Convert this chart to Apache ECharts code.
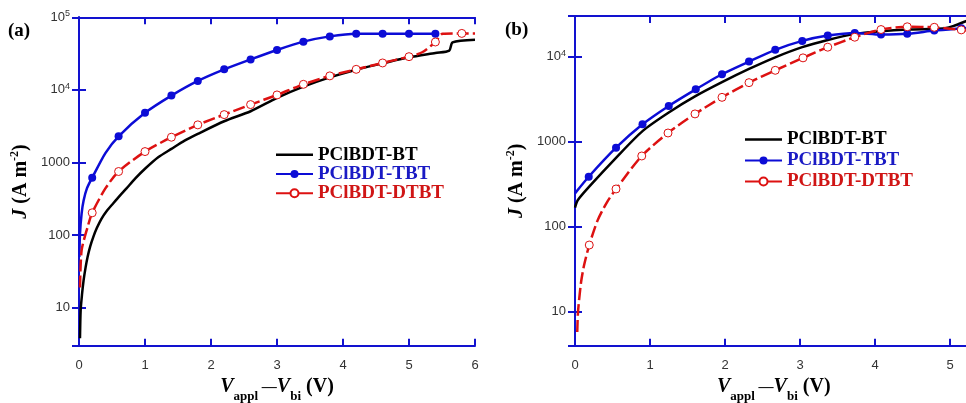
<!DOCTYPE html>
<html><head><meta charset="utf-8">
<script src="https://cdn.jsdelivr.net/npm/echarts@6/dist/echarts.min.js"></script>
<style>html,body{margin:0;padding:0;background:#fff;overflow:hidden}#c{width:980px;height:403px}</style>
</head><body><div id="c"></div>
<script>
// ---------- names ----------
const seriesNames = ['PClBDT-BT', 'PClBDT-TBT', 'PClBDT-DTBT'];
const xTicksA = [0, 1, 2, 3, 4, 5, 6];
const xTicksB = [0, 1, 2, 3, 4, 5];
const yTicksA = [10, 100, 1000, 10000, 100000];
const yTicksB = [10, 100, 1000, 10000];

// ---------- panel (a) ----------
const aBtX = [0.015, 0.025, 0.045, 0.07, 0.1, 0.13, 0.17, 0.216, 0.27, 0.34, 0.42, 0.52, 0.62, 0.72, 0.85, 1.0, 1.2, 1.4, 1.6, 1.8, 2.2, 2.6, 3.0, 3.4, 3.8, 4.2, 4.6, 5.0, 5.4, 5.61, 5.66, 6.0];
const aBtY = [3.8, 9.2, 15, 24, 36, 50, 70, 94, 125, 168, 215, 275, 350, 440, 600, 820, 1180, 1540, 2000, 2480, 3700, 5080, 7760, 11100, 14900, 19000, 23200, 28100, 32300, 34800, 45200, 49200];

const aTbtLineX = [0.005, 0.015, 0.04, 0.07, 0.12, 0.4];
const aTbtLineY = [50, 105, 200, 300, 440, 1350];
const aTbtMarkX = [0.2, 0.6, 1.0, 1.4, 1.8, 2.2, 2.6, 3.0, 3.4, 3.8, 4.2, 4.6, 5.0, 5.4];
const aTbtMarkY = [617, 2300, 4830, 8350, 13300, 19200, 26300, 35500, 46200, 54600, 59400, 59400, 59400, 59400];

const aDtbtLineX = [0.015, 0.04, 0.13, 0.4, 5.2, 5.51, 6.0];
const aDtbtLineY = [19, 62, 129, 440, 33000, 59500, 60000];
const aDtbtMarkX = [0.2, 0.6, 1.0, 1.4, 1.8, 2.2, 2.6, 3.0, 3.4, 3.8, 4.2, 4.6, 5.0, 5.4, 5.8];
const aDtbtMarkY = [203, 752, 1415, 2230, 3300, 4570, 6280, 8530, 11940, 15600, 19200, 23500, 28700, 45700, 60000];

// ---------- panel (b) ----------
const bBtX = [0, 0.036, 0.18, 0.55, 0.9, 1.25, 1.6, 1.96, 2.32, 2.67, 3.03, 3.37, 3.73, 4.08, 4.43, 4.79, 4.93, 5.05, 5.21, 5.3];
const bBtY = [168, 205, 290, 650, 1330, 2200, 3400, 5000, 7150, 9800, 12900, 15700, 18500, 19900, 20800, 21200, 21600, 23000, 26000, 27500];

const bTbtLineX = [0, 5.3];
const bTbtLineY = [247, 22000];
const bTbtMarkX = [0.183, 0.547, 0.9, 1.25, 1.61, 1.96, 2.32, 2.67, 3.03, 3.37, 3.73, 4.08, 4.43, 4.79, 5.15];
const bTbtMarkY = [387, 849, 1600, 2630, 4120, 6200, 8730, 12000, 15300, 17650, 19000, 18150, 18500, 20200, 21500];

const bDtbtLineX = [0.03, 0.04, 0.08, 0.12, 0.3, 0.42, 5.3];
const bDtbtLineY = [5.8, 10, 22, 35, 118, 190, 20000];
const bDtbtMarkX = [0.19, 0.547, 0.89, 1.24, 1.6, 1.96, 2.32, 2.67, 3.04, 3.37, 3.73, 4.08, 4.43, 4.79, 5.15];
const bDtbtMarkY = [61, 278, 679, 1265, 2120, 3320, 4940, 6900, 9660, 12900, 16900, 20800, 22400, 22100, 20600];

// ---------- styling ----------
const SANS = '"Liberation Sans", Arial, sans-serif';
const SERIF = '"Liberation Serif", "Times New Roman", serif';
const AXIS_BLUE = '#1212cf';
const C_BLACK = '#000000', C_BLUE = '#0c0cd6', C_RED = '#dd1111';
const TXT_BLUE = '#1a1ac4', TXT_RED = '#d01515';

function build(lx, ly, mx, my) {
  const items = [];
  lx.forEach((x, i) => items.push({ value: [x, ly[i]], symbol: 'none' }));
  (mx || []).forEach((x, i) => items.push({ value: [x, my[i]] }));
  items.sort((p, q) => p.value[0] - q.value[0]);
  return items;
}

function xFmt(ticks) {
  return v => ticks.some(t => Math.abs(t - v) < 1e-9) ? String(Math.round(v)) : '';
}
function yFmt(ticks) {
  return v => {
    const t = ticks.find(t => Math.abs(Math.log10(t) - Math.log10(v)) < 1e-6);
    if (t === undefined) return '';
    const e = Math.round(Math.log10(t));
    return e >= 4 ? '{b|10}{s|' + e + '}' : '{b|' + t + '}';
  };
}

const tickStyle = { show: true, inside: true, length: 7, lineStyle: { color: AXIS_BLUE, width: 2 } };
const lineAx = { show: true, lineStyle: { color: AXIS_BLUE, width: 2 } };

function xAxes(grid, max, ticks) {
  return [
    { type: 'value', gridIndex: grid, min: 0, max: max, interval: 1, position: 'bottom',
      axisLine: lineAx, axisTick: tickStyle, splitLine: { show: false },
      axisLabel: { formatter: xFmt(ticks), color: '#333', fontFamily: SANS, fontSize: 13, margin: 13 },
      name: '{v|V}{s|appl}{d| \u2014}{v|V}{s|bi}{p| (V)}', nameLocation: 'middle', nameGap: 25, nameMoveOverlap: false,
      nameTextStyle: { rich: {
        v: { fontFamily: SERIF, fontWeight: 'bold', fontStyle: 'italic', fontSize: 20, lineHeight: 32, color: '#000' },
        s: { fontFamily: SERIF, fontWeight: 'bold', fontSize: 13, lineHeight: 13, verticalAlign: 'bottom', color: '#000' },
        d: { fontFamily: SERIF, fontWeight: 'bold', fontSize: 15, lineHeight: 32, color: '#000' },
        p: { fontFamily: SERIF, fontWeight: 'bold', fontSize: 20, lineHeight: 32, color: '#000' }
      } } },
    { type: 'value', gridIndex: grid, min: 0, max: max, interval: 1, position: 'top',
      axisLine: lineAx, axisTick: tickStyle, splitLine: { show: false }, axisLabel: { show: false } }
  ];
}
function yAxes(grid, min, max, ticks, gap) {
  return [
    { type: 'log', logBase: 10, gridIndex: grid, min: min, max: max, position: 'left',
      axisLine: lineAx, axisTick: tickStyle, splitLine: { show: false }, minorTick: { show: false },
      axisLabel: { formatter: yFmt(ticks), margin: 9, color: '#333',
        rich: { b: { fontFamily: SANS, fontSize: 13, lineHeight: 16, color: '#333' },
                s: { fontFamily: SANS, fontSize: 9, lineHeight: 9, verticalAlign: 'top', color: '#333' } } },
      name: '{j|J}{t| (A m}{u|-2}{t|)}', nameLocation: 'middle', nameGap: gap, nameRotate: 90, nameMoveOverlap: false,
      nameTextStyle: { rich: {
        j: { fontFamily: SERIF, fontWeight: 'bold', fontStyle: 'italic', fontSize: 20, lineHeight: 24, color: '#000' },
        t: { fontFamily: SERIF, fontWeight: 'bold', fontSize: 20, lineHeight: 24, color: '#000' },
        u: { fontFamily: SERIF, fontWeight: 'bold', fontSize: 12, lineHeight: 12, verticalAlign: 'top', color: '#000' }
      } } },
    { type: 'log', logBase: 10, gridIndex: grid, min: min, max: max, position: 'right',
      axisLine: lineAx, axisTick: tickStyle, splitLine: { show: false }, axisLabel: { show: false } }
  ];
}

function mkSeries(name, xi, yi, data, kind) {
  const s = { name: name, type: 'line', xAxisIndex: xi, yAxisIndex: yi, data: data,
    smooth: 0.25, showSymbol: true, symbol: 'circle', symbolSize: 8,
    silent: true, animation: false, emphasis: { disabled: true }, clip: true };
  if (kind === 'bt') { s.lineStyle = { color: C_BLACK, width: 2.5 }; s.itemStyle = { color: C_BLACK }; s.symbol = 'none'; }
  if (kind === 'tbt') { s.lineStyle = { color: C_BLUE, width: 2.5 }; s.itemStyle = { color: C_BLUE }; }
  if (kind === 'dtbt') { s.lineStyle = { color: C_RED, width: 2.5, type: [12, 4] };
    s.itemStyle = { color: '#ffffff', borderColor: C_RED, borderWidth: 1, borderType: 'solid' }; }
  return s;
}

function legendCfg(left, top, lh) {
  return { orient: 'vertical', left: left, top: top, itemWidth: 37, itemHeight: 10, itemGap: 0,
    selectedMode: false, padding: 0, symbolKeepAspect: true,
    textStyle: { fontFamily: SERIF, fontWeight: 'bold', fontSize: 19, lineHeight: lh, color: '#000' },
    data: [ { name: seriesNames[0], icon: 'path://M0,0L37,0L37,2.5L0,2.5Z', itemStyle: { color: '#000' }, textStyle: { color: '#000' } },
            { name: seriesNames[1], textStyle: { color: TXT_BLUE } },
            { name: seriesNames[2], lineStyle: { type: 'solid' }, textStyle: { color: TXT_RED } } ] };
}

const option = {
  animation: false,
  backgroundColor: '#ffffff',
  grid: [
    { left: 79, top: 17.3, width: 396, height: 328.4, outerBoundsMode: 'none', containLabel: false },
    { left: 575, top: 16, width: 397.5, height: 329.7, outerBoundsMode: 'none', containLabel: false }
  ],
  xAxis: [...xAxes(0, 6, xTicksA), ...xAxes(1, 5.3, xTicksB)],
  yAxis: [...yAxes(0, 3, 100000, yTicksA, 46), ...yAxes(1, 4, 30000, yTicksB, 46)],
  legend: [legendCfg(275, 145, 19.3), legendCfg(744, 129, 21)],
  graphic: [
    { type: 'text', left: 8, top: 22, silent: true,
      style: { text: '(a)', fontFamily: SERIF, fontWeight: 'bold', fontSize: 19, fill: '#000' } },
    { type: 'text', left: 505, top: 21, silent: true,
      style: { text: '(b)', fontFamily: SERIF, fontWeight: 'bold', fontSize: 19, fill: '#000' } }
  ],
  series: [
    mkSeries(seriesNames[0], 0, 0, build(aBtX, aBtY), 'bt'),
    mkSeries(seriesNames[1], 0, 0, build(aTbtLineX, aTbtLineY, aTbtMarkX, aTbtMarkY), 'tbt'),
    mkSeries(seriesNames[2], 0, 0, build(aDtbtLineX, aDtbtLineY, aDtbtMarkX, aDtbtMarkY), 'dtbt'),
    mkSeries(seriesNames[0], 2, 2, build(bBtX, bBtY), 'bt'),
    mkSeries(seriesNames[1], 2, 2, build(bTbtLineX, bTbtLineY, bTbtMarkX, bTbtMarkY), 'tbt'),
    mkSeries(seriesNames[2], 2, 2, build(bDtbtLineX, bDtbtLineY, bDtbtMarkX, bDtbtMarkY), 'dtbt')
  ]
};
const chart = echarts.init(document.getElementById('c'), null, { renderer: 'canvas' });
chart.setOption(option);
</script></body></html>
